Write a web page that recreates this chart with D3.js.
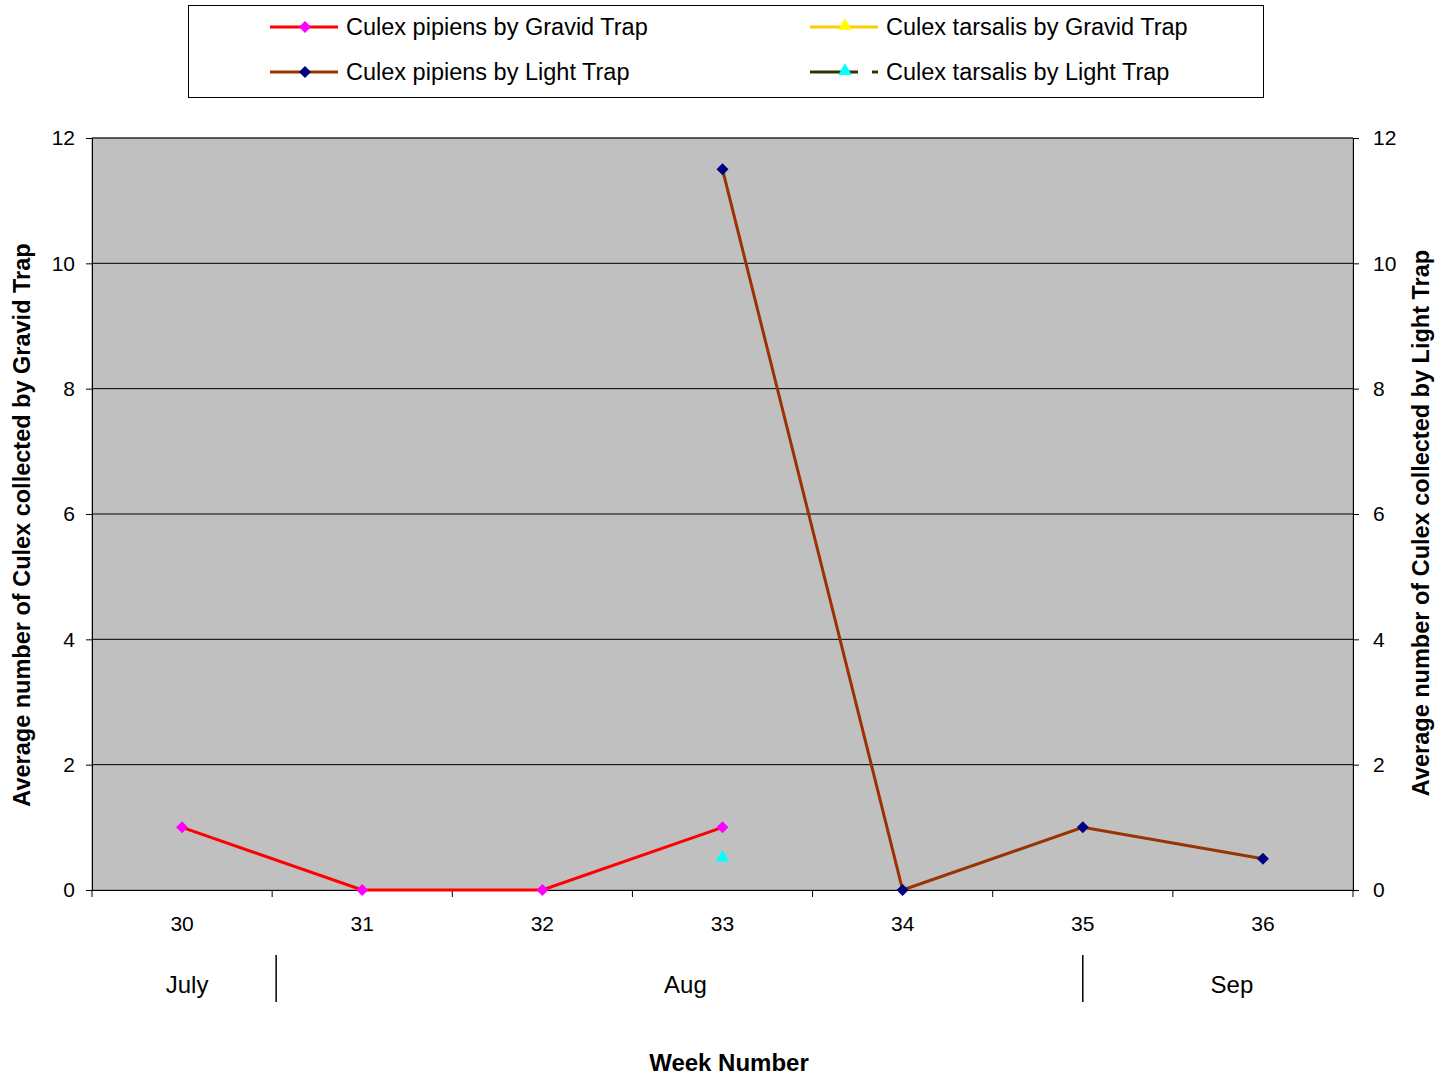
<!DOCTYPE html>
<html><head><meta charset="utf-8">
<script src="https://cdn.jsdelivr.net/npm/d3@7"></script>
<style>body{margin:0;background:#fff;}svg{display:block;font-family:"Liberation Sans",Arial,sans-serif;}</style>
</head><body>
<svg id="c" width="1443" height="1079"></svg>
<script>
const weeks = ["30","31","32","33","34","35","36"];
const pipiensGravid = [1, 0, 0, 1, null, null, null];
const pipiensLight = [null, null, null, 11.5, 0, 1, 0.5];
const tarsalisGravid = [null, null, null, null, null, null, null];
const tarsalisLight = [null, null, null, 0.5, null, null, null];
const yTicks = [0, 2, 4, 6, 8, 10, 12];
const monthNames = ["July", "Aug", "Sep"];
const seriesNames = ["Culex pipiens by Gravid Trap","Culex tarsalis by Gravid Trap","Culex pipiens by Light Trap","Culex tarsalis by Light Trap"];

const svg = d3.select("#c");
const L = 92, R = 1353, T = 138, B = 890;
const x = d3.scaleBand().domain(weeks).range([L, R]).padding(0);
const y = d3.scaleLinear().domain([0, 12]).range([B, T]);
const y2 = d3.scaleLinear().domain([0, 12]).range([B, T]);
const bw = x.bandwidth();
const FONT = "Liberation Sans, Arial, sans-serif";

svg.append("rect").attr("x", L).attr("y", T).attr("width", R - L).attr("height", B - T)
  .attr("fill", "#C0C0C0").attr("stroke", "#808080").attr("stroke-width", 1);

svg.append("g").selectAll("line").data(yTicks.filter(d => d > 0)).join("line")
  .attr("x1", L).attr("x2", R).attr("y1", d => y(d)).attr("y2", d => y(d))
  .attr("stroke", "#000").attr("stroke-width", 1);

const gl = svg.append("g").attr("transform", `translate(${L},0)`)
  .call(d3.axisLeft(y).tickValues(yTicks).tickSize(6).tickPadding(11));
const gr = svg.append("g").attr("transform", `translate(${R},0)`)
  .call(d3.axisRight(y2).tickValues(yTicks).tickSize(6).tickPadding(14));
const gb = svg.append("g").attr("transform", `translate(0,${B})`)
  .call(d3.axisBottom(x).tickSize(0).tickPadding(26));
gb.selectAll(".tick line").remove();
const bounds = weeks.map(w => x(w)).concat([R]);
gb.selectAll(".bt").data(bounds).join("line").attr("class","bt")
  .attr("x1", d => d).attr("x2", d => d).attr("y1", 0).attr("y2", 7).attr("stroke", "#000");

[gl, gr, gb].forEach(g => {
  g.selectAll(".domain").attr("stroke", "#000");
  g.selectAll(".tick line").attr("stroke", "#000");
  g.selectAll("text").attr("font-size", 21).attr("fill", "#000").attr("font-family", FONT);
});

// month row: separators after first week boundary (Jul/Aug) and at the middle of week 35 (Aug/Sep)
const sep1 = x("31") + 4;
const sep2 = x("35") + bw / 2;
const monthLabelX = [(L + sep1) / 2 + 3, (sep1 + sep2) / 2 + 6, (sep2 + R) / 2 + 14];
monthNames.forEach((m, i) => {
  svg.append("text").attr("x", monthLabelX[i]).attr("y", 993).attr("text-anchor", "middle")
    .attr("font-size", 24).text(m);
});
[sep1, sep2].forEach(xx => {
  svg.append("line").attr("x1", xx).attr("x2", xx).attr("y1", 955).attr("y2", 1002).attr("stroke", "#000").attr("stroke-width", 1.5);
});

svg.append("text").attr("transform", `translate(30,525) rotate(-90)`).attr("text-anchor", "middle")
  .attr("font-size", 23.5).attr("font-weight", "bold").text("Average number of Culex collected by Gravid Trap");
svg.append("text").attr("transform", `translate(1429,523) rotate(-90)`).attr("text-anchor", "middle")
  .attr("font-size", 23.5).attr("font-weight", "bold").text("Average number of Culex collected by Light Trap");
svg.append("text").attr("x", 729).attr("y", 1071).attr("text-anchor", "middle")
  .attr("font-size", 24).attr("font-weight", "bold").text("Week Number");

const cx = i => x(weeks[i]) + bw / 2;
function marker(sel, shape, color) {
  if (shape === "diamond") {
    sel.append("path").attr("d", d3.symbol().type(d3.symbolSquare).size(72)).attr("transform", "rotate(45)").attr("fill", color);
  } else {
    sel.append("path").attr("d", d3.symbol().type(d3.symbolTriangle).size(80)).attr("transform", "translate(0,-1)").attr("fill", color);
  }
}
function drawSeries(vals, sc, lineColor, markerColor, shape, dash) {
  const data = vals.map((v, i) => ({i, v}));
  const line = d3.line().defined(d => d.v !== null).x(d => cx(d.i)).y(d => sc(d.v));
  svg.append("path").datum(data).attr("d", line).attr("fill", "none")
    .attr("stroke", lineColor).attr("stroke-width", 3).attr("stroke-dasharray", dash || null);
  svg.append("g").selectAll("g").data(data.filter(d => d.v !== null)).join("g")
    .attr("transform", d => `translate(${cx(d.i)},${sc(d.v)})`)
    .each(function() { marker(d3.select(this), shape, markerColor); });
}
drawSeries(pipiensGravid, y, "#FF0000", "#FF00FF", "diamond");
drawSeries(tarsalisGravid, y, "#FFCC00", "#FFFF00", "triangle");
drawSeries(pipiensLight, y2, "#993300", "#000080", "diamond");
drawSeries(tarsalisLight, y2, "#333300", "#00FFFF", "triangle", "48,14");

svg.append("rect").attr("x", 188.5).attr("y", 5.5).attr("width", 1075).attr("height", 92)
  .attr("fill", "#fff").attr("stroke", "#000").attr("stroke-width", 1);
const legend = [
  {name: seriesNames[0], lc: "#FF0000", mc: "#FF00FF", shape: "diamond", x: 270, y: 27},
  {name: seriesNames[1], lc: "#FFCC00", mc: "#FFFF00", shape: "triangle", x: 810, y: 27},
  {name: seriesNames[2], lc: "#993300", mc: "#000080", shape: "diamond", x: 270, y: 72},
  {name: seriesNames[3], lc: "#333300", mc: "#00FFFF", shape: "triangle", x: 810, y: 72, dash: "48,14"}
];
legend.forEach(d => {
  svg.append("line").attr("x1", d.x).attr("x2", d.x + 68).attr("y1", d.y).attr("y2", d.y)
    .attr("stroke", d.lc).attr("stroke-width", 3).attr("stroke-dasharray", d.dash || null);
  const g = svg.append("g").attr("transform", `translate(${d.x + 35},${d.y})`);
  marker(g, d.shape, d.mc);
  svg.append("text").attr("x", d.x + 76).attr("y", d.y + 8).attr("font-size", 23.5).text(d.name);
});
</script>
</body></html>
